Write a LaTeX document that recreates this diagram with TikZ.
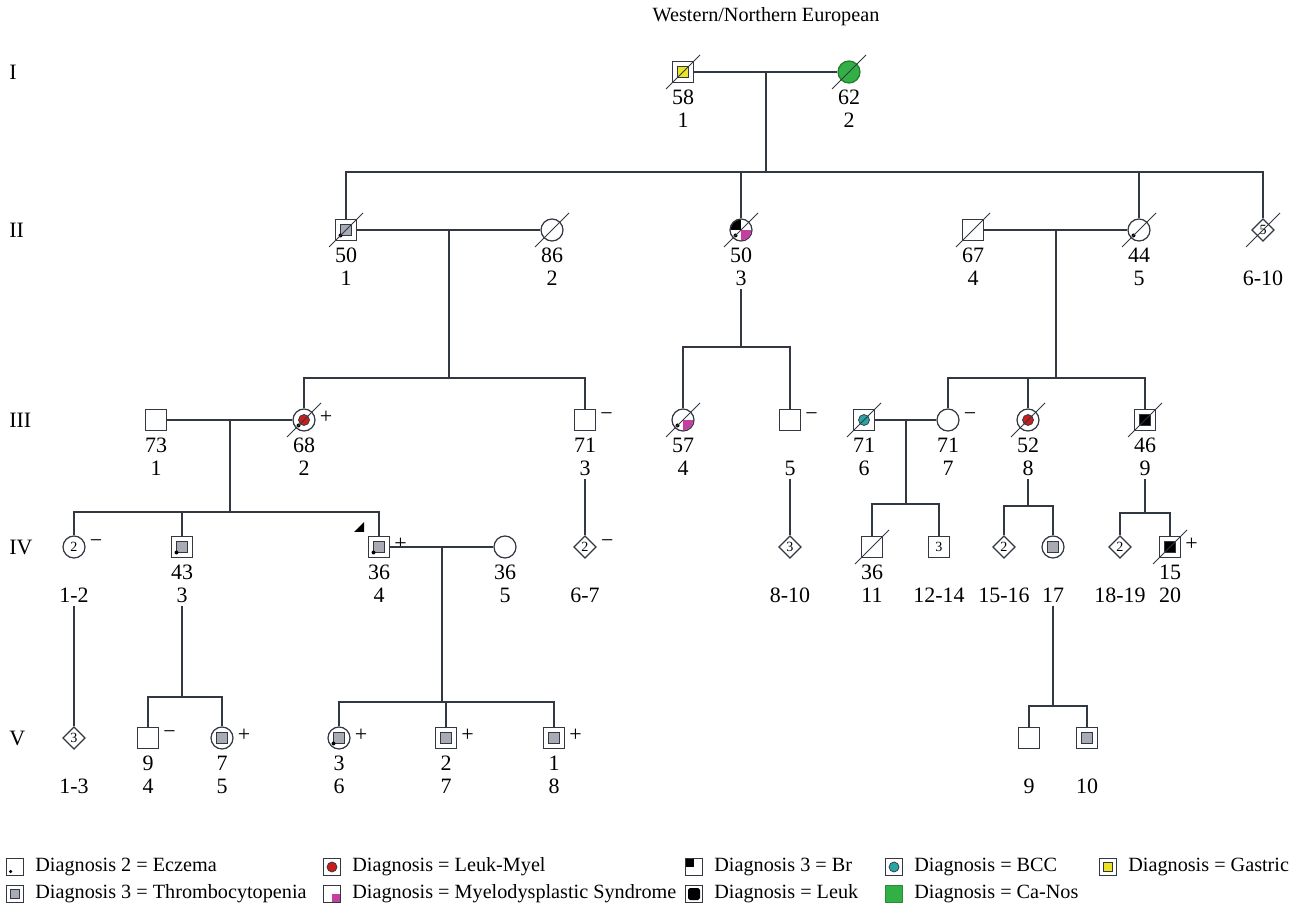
\documentclass[tikz,border=0pt]{standalone}
\usepackage{fontspec}
\setmainfont{Liberation Serif}
\usetikzlibrary{positioning,shapes.geometric,calc}

\definecolor{lncol}{RGB}{50,56,66}
\definecolor{thrgrey}{RGB}{168,170,180}
\definecolor{leukred}{RGB}{200,30,30}
\definecolor{mdsmag}{RGB}{196,64,160}
\definecolor{bccteal}{RGB}{40,165,165}
\definecolor{gastyel}{RGB}{236,226,40}
\definecolor{canosgrn}{RGB}{50,176,70}

\tikzset{
  sym/.style={draw=lncol, line width=0.7pt, inner sep=0pt, font=\fontsize{8}{8}\selectfont},
  male/.style={sym, rectangle, minimum size=0.42cm},
  female/.style={sym, circle, minimum size=0.44cm},
  sexunk/.style={sym, diamond, minimum size=0.45cm},
  lbl/.style={font=\fontsize{12.5}{14}\selectfont, inner sep=1.5pt},
  gen/.style={font=\fontsize{12.5}{14}\selectfont, anchor=west, inner sep=0pt},
  sgnst/.style={font=\fontsize{12.5}{14}\selectfont, anchor=west, inner sep=0pt},
  link/.style={draw=lncol, line width=0.8pt},
  legbox/.style={draw=lncol, line width=0.6pt, rectangle, minimum size=0.34cm, inner sep=0pt},
  legtxt/.style={font=\fontsize{11.5}{13}\selectfont, inner sep=0pt},
  ttl/.style={font=\fontsize{11.5}{13}\selectfont},
}

% markers drawn on top of a person node
\newcommand{\deceased}[1]{\draw[lncol, line width=0.5pt] ([shift={(-0.34cm,-0.34cm)}]#1.center) -- ([shift={(0.34cm,0.34cm)}]#1.center);}
\newcommand{\ecdot}[1]{\fill[black] ([shift={(-0.11cm,-0.11cm)}]#1.center) circle (0.04cm);}
\newcommand{\inbox}[2]{\filldraw[fill=#2, draw=lncol, line width=0.6pt] ([shift={(-0.11cm,-0.11cm)}]#1.center) rectangle ([shift={(0.11cm,0.11cm)}]#1.center);}
\newcommand{\indisc}[2]{\filldraw[fill=#2, draw=lncol, line width=0.4pt] (#1.center) circle (0.11cm);}
\newcommand{\qtopleft}[1]{\begin{scope}\clip (#1.center) circle (0.207cm); \fill[black] (#1.center) rectangle ([shift={(-0.25cm,0.25cm)}]#1.center);\end{scope}}
\newcommand{\qbotright}[1]{\begin{scope}\clip (#1.center) circle (0.207cm); \fill[mdsmag] (#1.center) rectangle ([shift={(0.25cm,-0.25cm)}]#1.center);\end{scope}}
% age and id under a person
\newcommand{\pinfo}[3]{\node[lbl] (#1age) at ([yshift=-0.5cm]#1.center) {#2}; \node[lbl] (#1id) at ([yshift=-0.97cm]#1.center) {#3};}
\newcommand{\psign}[2]{\node[sgnst] at ([xshift=0.08cm,yshift=0.06cm]#1.east) {#2};}

\begin{document}
\begin{tikzpicture}[x=0.02cm,y=-0.02cm]
\useasboundingbox (0,0) rectangle (1295,911);

\node[ttl] (title) at (766,17) {Western/Northern European};

% generations
\node[gen] (gI) at (9,72) {I};
\node[gen] (gII) at (9,230) {II};
\node[gen] (gIII) at (9,420) {III};
\node[gen] (gIV) at (9,547) {IV};
\node[gen] (gV) at (9,738) {V};

% ---- I
\node[male] (I1) at (683,72) {};
\node[female, fill=canosgrn, draw=canosgrn!70!black] (I2) at (849,72) {};
\inbox{I1}{gastyel}
\deceased{I1} \deceased{I2}
\pinfo{I1}{58}{1} \pinfo{I2}{62}{2}

% ---- II
\node[male] (II1) at (346,230) {};
\node[female] (II2) at (552,230) {};
\node[female] (II3) at (741,230) {};
\node[male] (II4) at (973,230) {};
\node[female] (II5) at (1139,230) {};
\node[sexunk] (II6) at (1263,230) {5};
\inbox{II1}{thrgrey} \ecdot{II1}
\qtopleft{II3} \qbotright{II3} \ecdot{II3}
\ecdot{II5}
\deceased{II1} \deceased{II2} \deceased{II3} \deceased{II4} \deceased{II5} \deceased{II6}
\pinfo{II1}{50}{1} \pinfo{II2}{86}{2} \pinfo{II3}{50}{3}
\pinfo{II4}{67}{4} \pinfo{II5}{44}{5} \pinfo{II6}{}{6-10}

% ---- III
\node[male] (III1) at (156,420) {};
\node[female] (III2) at (304,420) {};
\node[male] (III3) at (585,420) {};
\node[female] (III4) at (683,420) {};
\node[male] (III5) at (790,420) {};
\node[male] (III6) at (864,420) {};
\node[female] (III7) at (948,420) {};
\node[female] (III8) at (1028,420) {};
\node[male] (III9) at (1145,420) {};
\indisc{III2}{leukred} \ecdot{III2}
\qbotright{III4} \ecdot{III4}
\indisc{III6}{bccteal}
\indisc{III8}{leukred}
\inbox{III9}{black}
\deceased{III2} \deceased{III4} \deceased{III6} \deceased{III8} \deceased{III9}
\pinfo{III1}{73}{1} \pinfo{III2}{68}{2} \pinfo{III3}{71}{3}
\pinfo{III4}{57}{4} \pinfo{III5}{}{5} \pinfo{III6}{71}{6}
\pinfo{III7}{71}{7} \pinfo{III8}{52}{8} \pinfo{III9}{46}{9}
\psign{III2}{+} \psign{III3}{−} \psign{III5}{−} \psign{III7}{−}

% ---- IV
\node[female] (IV1) at (74,547) {2};
\node[male] (IV3) at (182,547) {};
\node[male] (IV4) at (379,547) {};
\node[female] (IV5) at (505,547) {};
\node[sexunk] (IV6) at (585,547) {2};
\node[sexunk] (IV8) at (790,547) {3};
\node[male] (IV11) at (872,547) {};
\node[male] (IV12) at (939,547) {3};
\node[sexunk] (IV15) at (1004,547) {2};
\node[female] (IV17) at (1053,547) {};
\node[sexunk] (IV18) at (1120,547) {2};
\node[male] (IV20) at (1170,547) {};
\inbox{IV3}{thrgrey} \ecdot{IV3}
\inbox{IV4}{thrgrey} \ecdot{IV4}
\inbox{IV17}{thrgrey}
\inbox{IV20}{black}
\deceased{IV11} \deceased{IV20}
\fill[black] ([shift={(-25,-15)}]IV4.center) -- ([shift={(-15,-15)}]IV4.center) -- ([shift={(-15,-25)}]IV4.center) -- cycle;
\pinfo{IV1}{}{1-2} \pinfo{IV3}{43}{3} \pinfo{IV4}{36}{4}
\pinfo{IV5}{36}{5} \pinfo{IV6}{}{6-7} \pinfo{IV8}{}{8-10}
\pinfo{IV11}{36}{11} \pinfo{IV12}{}{12-14} \pinfo{IV15}{}{15-16}
\pinfo{IV17}{}{17} \pinfo{IV18}{}{18-19} \pinfo{IV20}{15}{20}
\psign{IV1}{−} \psign{IV4}{+} \psign{IV6}{−} \psign{IV20}{+}

% ---- V
\node[sexunk] (V1) at (74,738) {3};
\node[male] (V4) at (148,738) {};
\node[female] (V5) at (222,738) {};
\node[female] (V6) at (339,738) {};
\node[male] (V7) at (446,738) {};
\node[male] (V8) at (554,738) {};
\node[male] (V9) at (1029,738) {};
\node[male] (V10) at (1087,738) {};
\inbox{V5}{thrgrey}
\inbox{V6}{thrgrey} \ecdot{V6}
\inbox{V7}{thrgrey} \inbox{V8}{thrgrey} \inbox{V10}{thrgrey}
\pinfo{V1}{}{1-3} \pinfo{V4}{9}{4} \pinfo{V5}{7}{5} \pinfo{V6}{3}{6}
\pinfo{V7}{2}{7} \pinfo{V8}{1}{8} \pinfo{V9}{}{9} \pinfo{V10}{}{10}
\psign{V4}{−} \psign{V5}{+} \psign{V6}{+} \psign{V7}{+} \psign{V8}{+}

% ---- lines of descent
\draw[link] (I1) -- (I2);
\coordinate (mI) at ($(I1)!0.5!(I2)$);
\coordinate (sI) at ($(mI)+(0,100)$);
\draw[link] (mI) -- (sI);
\draw[link] (II1) |- (sI) -| (II6);
\draw[link] (II3) -- (II3 |- sI);
\draw[link] (II5) -- (II5 |- sI);

\draw[link] (II1) -- (II2);
\coordinate (mII12) at ($(II1)!0.5!(II2)$);
\coordinate (sII12) at ($(mII12)+(0,148)$);
\draw[link] (mII12) -- (sII12);
\draw[link] (III2) |- (sII12) -| (III3);

\coordinate (sII3) at ($(II3)+(0,117)$);
\draw[link] (II3id.south) -- (sII3);
\draw[link] (III4) |- (sII3) -| (III5);

\draw[link] (II4) -- (II5);
\coordinate (mII45) at ($(II4)!0.5!(II5)$);
\coordinate (sII45) at ($(mII45)+(0,148)$);
\draw[link] (mII45) -- (sII45);
\draw[link] (III7) |- (sII45) -| (III9);
\draw[link] (III8) -- (III8 |- sII45);

\draw[link] (III1) -- (III2);
\coordinate (mIII12) at ($(III1)!0.5!(III2)$);
\coordinate (sIII12) at ($(mIII12)+(0,92)$);
\draw[link] (mIII12) -- (sIII12);
\draw[link] (IV1) |- (sIII12) -| (IV4);
\draw[link] (IV3) -- (IV3 |- sIII12);

\draw[link] (III3id.south) -- (IV6);
\draw[link] (III5id.south) -- (IV8);

\draw[link] (III6) -- (III7);
\coordinate (mIII67) at ($(III6)!0.5!(III7)$);
\coordinate (sIII67) at ($(mIII67)+(0,84)$);
\draw[link] (mIII67) -- (sIII67);
\draw[link] (IV11) |- (sIII67) -| (IV12);

\coordinate (sIII8) at ($(III8)+(0,86)$);
\draw[link] (III8id.south) -- (sIII8);
\draw[link] (IV15) |- (sIII8) -| (IV17);

\coordinate (sIII9) at ($(III9)+(0,93)$);
\draw[link] (III9id.south) -- (sIII9);
\draw[link] (IV18) |- (sIII9) -| (IV20);

\draw[link] (IV1id.south) -- (V1);

\coordinate (sIV3) at ($(IV3)+(0,150)$);
\draw[link] (IV3id.south) -- (sIV3);
\draw[link] (V4) |- (sIV3) -| (V5);

\draw[link] (IV4) -- (IV5);
\coordinate (mIV45) at ($(IV4)!0.5!(IV5)$);
\coordinate (sIV45) at ($(mIV45)+(0,155)$);
\draw[link] (mIV45) -- (sIV45);
\draw[link] (V6) |- (sIV45) -| (V8);
\draw[link] (V7) -- (V7 |- sIV45);

\coordinate (sIV17) at ($(IV17)+(0,159)$);
\draw[link] (IV17id.south) -- (sIV17);
\draw[link] (V9) |- (sIV17) -| (V10);

% ---- legend
\node[legbox] (lgEcz) at (15,867) {};
\fill[black] ([shift={(-0.09cm,-0.09cm)}]lgEcz.center) circle (0.035cm);
\node[legtxt, right=0.22cm of lgEcz] {Diagnosis 2 = Eczema};
\node[legbox] (lgThr) at (15,894) {};
\filldraw[fill=thrgrey, draw=lncol, line width=0.5pt] ([shift={(-0.09cm,-0.09cm)}]lgThr.center) rectangle ([shift={(0.09cm,0.09cm)}]lgThr.center);
\node[legtxt, right=0.22cm of lgThr] {Diagnosis 3 = Thrombocytopenia};

\node[legbox] (lgLM) at (332,867) {};
\filldraw[fill=leukred, draw=lncol, line width=0.4pt] (lgLM.center) circle (0.1cm);
\node[legtxt, right=0.22cm of lgLM] {Diagnosis = Leuk-Myel};
\node[legbox] (lgMDS) at (332,894) {};
\fill[mdsmag] (lgMDS.center) rectangle ([shift={(0.16cm,-0.16cm)}]lgMDS.center);
\node[legtxt, right=0.22cm of lgMDS] {Diagnosis = Myelodysplastic Syndrome};

\node[legbox] (lgBr) at (694,867) {};
\fill[black] (lgBr.center) rectangle ([shift={(-0.16cm,0.16cm)}]lgBr.center);
\node[legtxt, right=0.22cm of lgBr] {Diagnosis 3 = Br};
\node[legbox] (lgLk) at (694,894) {};
\fill[black, rounded corners=1pt] ([shift={(-0.12cm,-0.12cm)}]lgLk.center) rectangle ([shift={(0.12cm,0.12cm)}]lgLk.center);
\node[legtxt, right=0.22cm of lgLk] {Diagnosis = Leuk};

\node[legbox] (lgBCC) at (894,867) {};
\filldraw[fill=bccteal, draw=lncol, line width=0.4pt] (lgBCC.center) circle (0.1cm);
\node[legtxt, right=0.22cm of lgBCC] {Diagnosis = BCC};
\node[legbox, fill=canosgrn, draw=canosgrn!80!black] (lgCN) at (894,894) {};
\node[legtxt, right=0.22cm of lgCN] {Diagnosis = Ca-Nos};

\node[legbox] (lgGas) at (1108,867) {};
\filldraw[fill=gastyel, draw=lncol, line width=0.5pt] ([shift={(-0.09cm,-0.09cm)}]lgGas.center) rectangle ([shift={(0.09cm,0.09cm)}]lgGas.center);
\node[legtxt, right=0.22cm of lgGas] {Diagnosis = Gastric};
\end{tikzpicture}
\end{document}
